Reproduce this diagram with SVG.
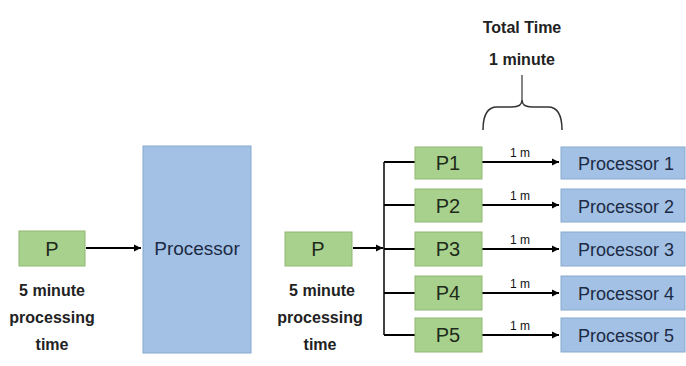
<svg xmlns="http://www.w3.org/2000/svg" width="686" height="366" viewBox="0 0 686 366">
<defs>
<marker id="ah" markerWidth="8" markerHeight="8" refX="7" refY="4" orient="auto" markerUnits="userSpaceOnUse">
<path d="M0,0.5 L7,4 L0,7.5 Z" fill="#000"/>
</marker>
<style>
.g{fill:#a9d18e;stroke:#8fb873;stroke-width:1}
.b{fill:#a3c1e5;stroke:#8aa9cf;stroke-width:1}
.tg{font-family:"Liberation Sans",Arial,sans-serif;font-size:20px;fill:#1e2b1a;text-anchor:middle}
.tb{font-family:"Liberation Sans",Arial,sans-serif;font-size:18px;fill:#1c2a44;text-anchor:middle}
.lbl{font-family:"Liberation Sans",Arial,sans-serif;font-size:16px;font-weight:bold;fill:#222;text-anchor:middle}
.sm{font-family:"Liberation Sans",Arial,sans-serif;font-size:12px;fill:#111;text-anchor:middle}
.ln{stroke:#000;stroke-width:2;fill:none}
.thin{stroke:#000;stroke-width:1.5;fill:none}
</style>
</defs>
<rect width="686" height="366" fill="#fff"/>

<g id="connectors">
<line class="ln" x1="86" y1="248" x2="141" y2="248" marker-end="url(#ah)"/>
<line class="ln" x1="353" y1="248" x2="383" y2="248" marker-end="url(#ah)"/>
<line class="thin" x1="384" y1="162" x2="384" y2="335"/>
<line class="ln" x1="384" y1="162" x2="415" y2="162"/>
<line class="ln" x1="384" y1="205" x2="415" y2="205"/>
<line class="ln" x1="384" y1="249" x2="415" y2="249"/>
<line class="ln" x1="384" y1="293" x2="415" y2="293"/>
<line class="ln" x1="384" y1="335" x2="415" y2="335"/>
<line class="ln" x1="482" y1="162" x2="559" y2="162" marker-end="url(#ah)"/>
<line class="ln" x1="482" y1="205" x2="559" y2="205" marker-end="url(#ah)"/>
<line class="ln" x1="482" y1="249" x2="559" y2="249" marker-end="url(#ah)"/>
<line class="ln" x1="482" y1="293" x2="559" y2="293" marker-end="url(#ah)"/>
<line class="ln" x1="482" y1="335" x2="559" y2="335" marker-end="url(#ah)"/>
<text class="sm" x="520" y="157">1 m</text>
<text class="sm" x="520" y="200">1 m</text>
<text class="sm" x="520" y="244">1 m</text>
<text class="sm" x="520" y="288">1 m</text>
<text class="sm" x="520" y="330">1 m</text>
</g>

<g id="brace">
<path d="M483,130 Q483,107 497,107 L512,107 Q522,107 522,100 Q522,107 532,107 L548,107 Q562,107 562,130" fill="none" stroke="#333" stroke-width="1.5"/>
<line x1="522" y1="100" x2="522" y2="75" stroke="#333" stroke-width="1.2"/>
<text class="lbl" x="522" y="33">Total Time</text>
<text class="lbl" x="522" y="65">1 minute</text>
</g>

<g id="p-left">
<rect class="g" x="19" y="231" width="66" height="35"/>
<text class="tg" x="52" y="256">P</text>
<text class="lbl" x="52" y="296">5 minute</text>
<text class="lbl" x="52" y="323">processing</text>
<text class="lbl" x="52" y="350">time</text>
</g>

<g id="processor-left">
<rect class="b" x="143" y="146" width="108" height="207"/>
<text class="tb" x="197" y="255" style="font-size:19px">Processor</text>
</g>

<g id="p-right">
<rect class="g" x="285" y="232" width="67" height="34"/>
<text class="tg" x="318" y="256">P</text>
<text class="lbl" x="322" y="296">5 minute</text>
<text class="lbl" x="320" y="323">processing</text>
<text class="lbl" x="320" y="350">time</text>
</g>

<g id="p1"><rect class="g" x="415" y="147" width="67" height="32"/><text class="tg" x="448" y="170">P1</text></g>
<g id="p2"><rect class="g" x="415" y="189" width="67" height="33"/><text class="tg" x="448" y="213">P2</text></g>
<g id="p3"><rect class="g" x="415" y="232" width="67" height="34"/><text class="tg" x="448" y="256">P3</text></g>
<g id="p4"><rect class="g" x="415" y="276" width="67" height="34"/><text class="tg" x="448" y="300">P4</text></g>
<g id="p5"><rect class="g" x="415" y="318" width="67" height="34"/><text class="tg" x="448" y="342">P5</text></g>

<g id="proc1"><rect class="b" x="561" y="147" width="124" height="32"/><text class="tb" x="626" y="170">Processor 1</text></g>
<g id="proc2"><rect class="b" x="561" y="189" width="124" height="33"/><text class="tb" x="626" y="213">Processor 2</text></g>
<g id="proc3"><rect class="b" x="561" y="232" width="124" height="34"/><text class="tb" x="626" y="256">Processor 3</text></g>
<g id="proc4"><rect class="b" x="561" y="276" width="124" height="34"/><text class="tb" x="626" y="300">Processor 4</text></g>
<g id="proc5"><rect class="b" x="561" y="318" width="124" height="34"/><text class="tb" x="626" y="342">Processor 5</text></g>
</svg>
